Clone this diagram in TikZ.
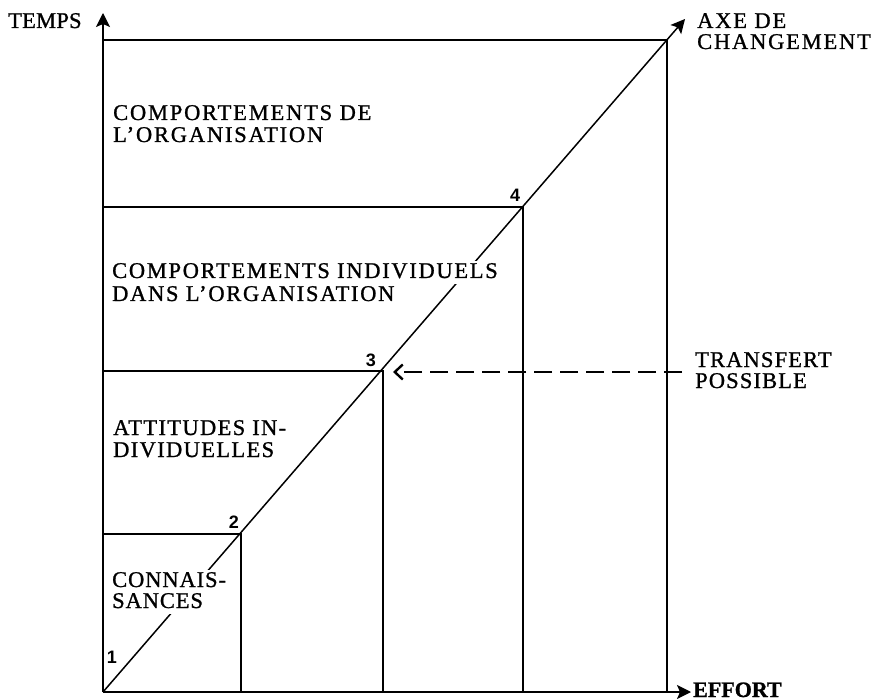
\documentclass[tikz,border=0pt]{standalone}
\usepackage{fontspec}
\setmainfont{Liberation Serif}[FakeBold=1]
\newfontfamily\numfont{Liberation Sans}
\usetikzlibrary{arrows.meta}
\tikzset{
  gridline/.style={line width=1.4pt},
  axisarrow/.style={line width=1.5pt,-{Stealth[length=14pt,width=14pt,inset=3pt]}},
  lbl/.style={anchor=base west,inner sep=1pt,fill=white,text height=16pt,text depth=5pt,
    font=\fontsize{22.5}{23}\selectfont\addfontfeature{LetterSpace=#1}},
  lbl/.default=6,
  side/.style={anchor=base west,inner sep=0pt,
    font=\fontsize{22.5}{23}\selectfont\addfontfeature{LetterSpace=#1}},
  side/.default=5,
  num/.style={inner sep=0pt,font=\numfont\bfseries\fontsize{18}{18}\selectfont},
  transfer/.style={line width=1.4pt,dash pattern=on 18pt off 8pt,
    -{Straight Barb[length=8pt,width=15pt,line width=2.4pt]}},
}
\begin{document}
\begin{tikzpicture}[x=1pt,y=-1pt]
\useasboundingbox (0,0) rectangle (875,700);
% key points
\coordinate (O) at (103,692);
\coordinate (Ytip) at (103,13);
\coordinate (Xtip) at (691,692);
\coordinate (D) at (685,19);
\coordinate (P2) at (241,534);
\coordinate (P3) at (383,371);
\coordinate (P4) at (523,207);
\coordinate (P5) at (667,40);
\coordinate (L2) at (103,534);
\coordinate (L3) at (103,371);
\coordinate (L4) at (103,207);
\coordinate (L5) at (103,40);
\coordinate (B2) at (241,692);
\coordinate (B3) at (383,692);
\coordinate (B4) at (523,692);
\coordinate (B5) at (667,692);
\coordinate (tstart) at (682,372);
\coordinate (ttip) at (393,372);
% grid
\draw[gridline] (L2) -- (P2) -- (B2);
\draw[gridline] (L3) -- (P3) -- (B3);
\draw[gridline] (L4) -- (P4) -- (B4);
\draw[gridline] (L5) -- (P5) -- (B5);
% axes
\draw[axisarrow] (O) -- (Ytip);
\draw[axisarrow] (O) -- (Xtip);
\draw[axisarrow] (O) -- (D);
% transfer
\draw[transfer] (tstart) -- (ttip);
% labels inside
\node[lbl=8] (c1) at (112,120) {COMPORTEMENTS DE};
\node[lbl=8] (c2) at (112,142) {L'ORGANISATION};
\node[lbl=7.5] (i1) at (111,278) {COMPORTEMENTS INDIVIDUELS};
\node[lbl=7.5] (i2) at (111,301) {DANS L'ORGANISATION};
\node[lbl=6] (a1) at (112,435) {ATTITUDES IN-};
\node[lbl=6] (a2) at (112,457) {DIVIDUELLES};
\node[lbl=4] (k1) at (111,587) {CONNAIS-};
\node[lbl=4] (k2) at (111,608) {SANCES};
% outside labels
\node[side=1] (temps) at (8,28) {TEMPS};
\node[side=8] (axe1) at (697,28) {AXE DE};
\node[side=8] (axe2) at (697,49) {CHANGEMENT};
\node[side=5] (tr1) at (695,367) {TRANSFERT};
\node[side=5] (tr2) at (695,388) {POSSIBLE};
\node[side=0,font=\fontsize{22}{22}\selectfont\bfseries] (effort) at (693,697) {EFFORT};
% numbers
\node[num] (n1) at (112,657) {1};
\node[num] (n2) at (234,522) {2};
\node[num] (n3) at (371,360) {3};
\node[num] (n4) at (515,195) {4};
\end{tikzpicture}
\end{document}
